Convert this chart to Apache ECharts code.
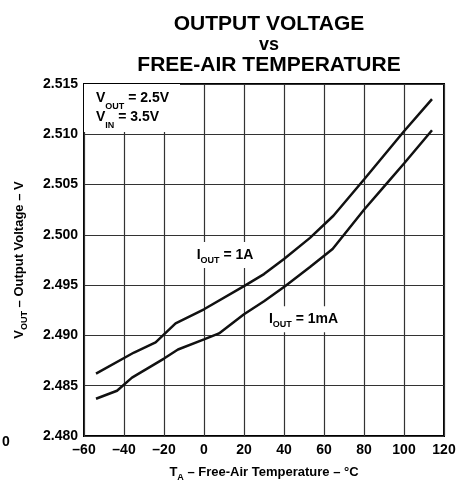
<!DOCTYPE html>
<html>
<head>
<meta charset="utf-8">
<script src="https://cdn.jsdelivr.net/npm/echarts@6/dist/echarts.min.js"></script>
<style>
  html, body { margin: 0; padding: 0; background: #fff; }
  #chart { width: 467px; height: 487px; }
</style>
</head>
<body>
<div id="chart"></div>
<script>
// temperatures (°C) and output voltage (V)
var temps1A = [-54, -35, -24.2, -14.2, 0, 20, 30, 40, 53, 64.7, 80, 100, 114];
var vout1A = [2.4862, 2.4883, 2.4893, 2.4912, 2.4926, 2.4949, 2.4961, 2.4976, 2.4997, 2.5019, 2.5055, 2.5103, 2.5135];

var temps1mA = [-54, -43.5, -36, -20, -13, 0, 7.5, 20, 30, 40.5, 53, 64.3, 80, 91.3, 100, 114];
var vout1mA = [2.4837, 2.4845, 2.4858, 2.4877, 2.4886, 2.4896, 2.4902, 2.4921, 2.4934, 2.4949, 2.4968, 2.4986, 2.5025, 2.5051, 2.5071, 2.5104];

var font = "Liberation Sans, Arial, Helvetica, sans-serif";

function pairs(xs, ys) {
  return xs.map(function (x, i) { return [x, ys[i]]; });
}

var chart = echarts.init(document.getElementById("chart"));

var sub = { fontSize: 9, fontWeight: "bold", fontFamily: font, color: "#000", verticalAlign: "bottom", padding: [0, 0, -3, 0] };
var big = { fontSize: 14, fontWeight: "bold", fontFamily: font, color: "#000" };

chart.setOption({
  animation: false,
  title: {
    text: "{a|OUTPUT VOLTAGE}\n{b|vs}\n{a|FREE-AIR TEMPERATURE}",
    left: 264,
    top: 9,
    textAlign: "center",
    textStyle: {
      rich: {
        a: { fontSize: 21, fontWeight: "bold", fontFamily: font, color: "#000", lineHeight: 20.5 },
        b: { fontSize: 18, fontWeight: "bold", fontFamily: font, color: "#000", lineHeight: 20.5 }
      }
    }
  },
  grid: {
    left: 84,
    right: 23,
    top: 84,
    bottom: 45,
    show: true,
    borderColor: "#000",
    borderWidth: 2,
    backgroundColor: "#fff"
  },
  xAxis: {
    type: "value",
    min: -60,
    max: 120,
    interval: 20,
    name: "{t|T}{s|A}{t| – Free-Air Temperature – °C}",
    nameLocation: "middle",
    nameGap: 30,
    nameTextStyle: {
      rich: {
        t: { fontSize: 13, fontWeight: "bold", fontFamily: font, color: "#000" },
        s: sub
      }
    },
    axisLine: { show: false },
    axisTick: { show: false },
    axisLabel: {
      margin: 7,
      fontSize: 14,
      fontWeight: "bold",
      fontFamily: font,
      color: "#000",
      formatter: function (v) { return v < 0 ? "–" + Math.abs(v) : String(v); }
    },
    splitLine: { lineStyle: { color: "#333", width: 1.2 } }
  },
  yAxis: {
    type: "value",
    min: 2.48,
    max: 2.515,
    interval: 0.005,
    name: "{t|V}{s|OUT}{t| – Output Voltage – V}",
    nameLocation: "middle",
    nameRotate: 90,
    nameGap: 58,
    nameTextStyle: {
      rich: {
        t: { fontSize: 13, fontWeight: "bold", fontFamily: font, color: "#000" },
        s: sub
      }
    },
    axisLine: { show: false },
    axisTick: { show: false },
    axisLabel: {
      margin: 6,
      fontSize: 14,
      fontWeight: "bold",
      fontFamily: font,
      color: "#000",
      formatter: function (v) { return v.toFixed(3); }
    },
    splitLine: { lineStyle: { color: "#333", width: 1.2 } }
  },
  graphic: [
    { type: "text", left: 2, top: 435, style: { text: "0", font: "bold 14px " + font, fill: "#000" } }
  ],
  series: [
    {
      name: "IOUT = 1A",
      type: "line",
      data: pairs(temps1A, vout1A),
      showSymbol: false,
      lineStyle: { color: "#111", width: 2.5 },
      z: 3,
      markPoint: {
        symbol: "rect",
        symbolSize: 0,
        data: [
          {
            coord: [-60, 2.515],
            label: {
              show: true,
              position: [0, 0],
              align: "left",
              verticalAlign: "top",
              backgroundColor: "#fff",
              width: 82,
              padding: [5, 2, 5, 12],
              formatter: "{v|V}{s|OUT}{v| = 2.5V}\n{v|V}{s|IN}{v| = 3.5V}",
              rich: {
                v: { fontSize: 14, fontWeight: "bold", fontFamily: font, color: "#000", lineHeight: 19 },
                s: sub
              }
            }
          },
          {
            coord: [10.5, 2.498],
            label: {
              show: true,
              position: [0, 0],
              align: "center",
              verticalAlign: "middle",
              backgroundColor: "#fff",
              padding: [6, 6, 6, 6],
              formatter: "{v|I}{s|OUT}{v| = 1A}",
              rich: { v: big, s: sub }
            }
          }
        ]
      }
    },
    {
      name: "IOUT = 1mA",
      type: "line",
      data: pairs(temps1mA, vout1mA),
      showSymbol: false,
      lineStyle: { color: "#111", width: 2.5 },
      z: 3,
      markPoint: {
        symbol: "rect",
        symbolSize: 0,
        data: [
          {
            coord: [49.75, 2.4916],
            label: {
              show: true,
              position: [0, 0],
              align: "center",
              verticalAlign: "middle",
              backgroundColor: "#fff",
              padding: [6, 6, 6, 6],
              formatter: "{v|I}{s|OUT}{v| = 1mA}",
              rich: { v: big, s: sub }
            }
          }
        ]
      }
    }
  ]
});
</script>
</body>
</html>
